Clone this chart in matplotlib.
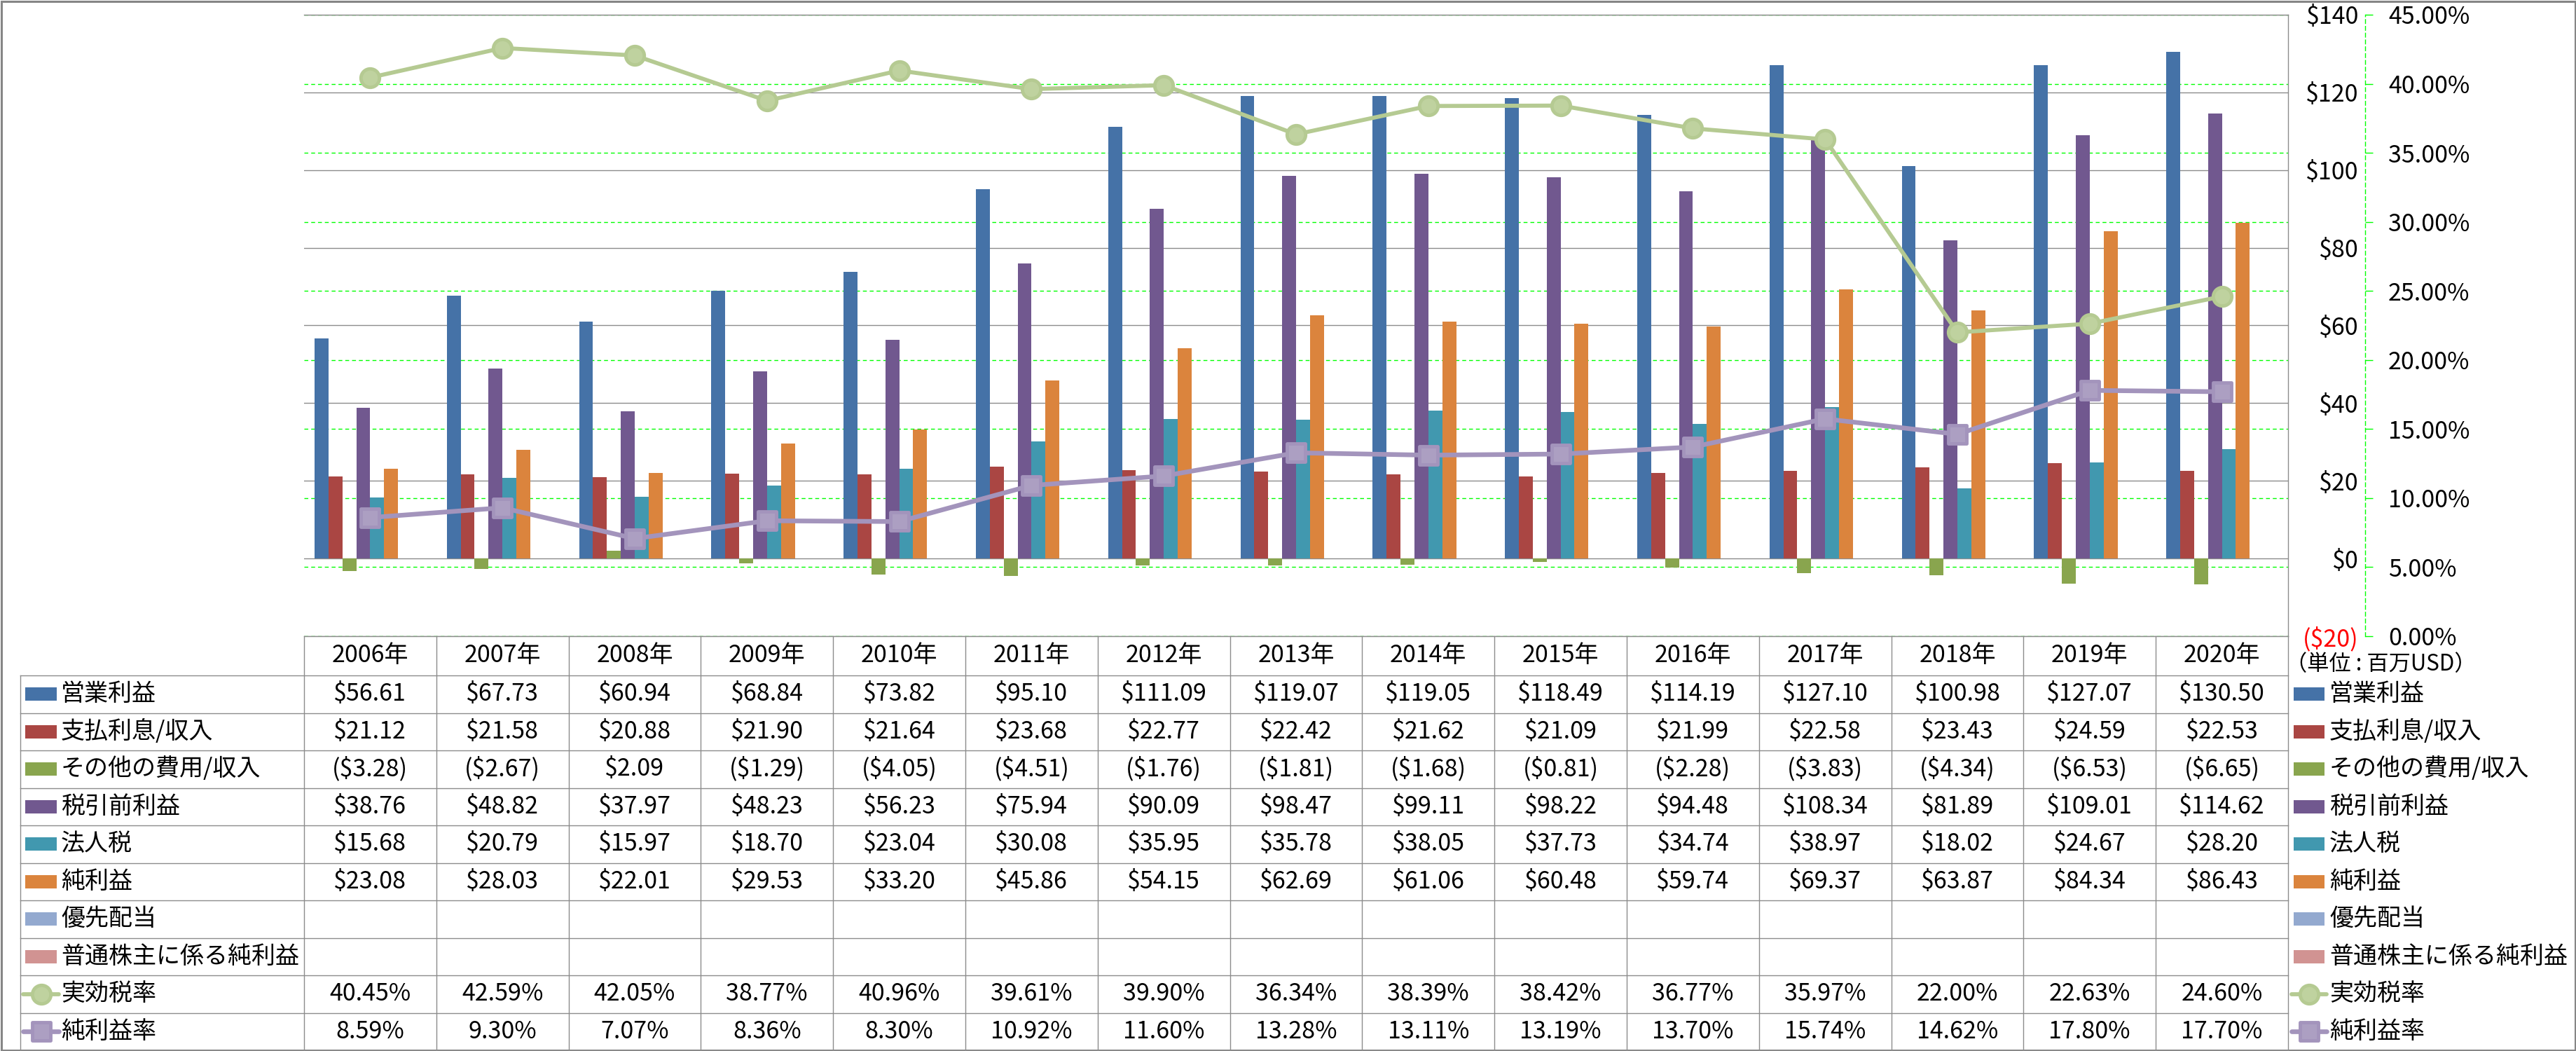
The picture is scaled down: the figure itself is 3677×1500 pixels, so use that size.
import numpy as np
import matplotlib
matplotlib.use('Agg')
import matplotlib.pyplot as plt
from matplotlib.patches import Rectangle
from matplotlib.markers import MarkerStyle

plt.rcParams['font.family'] = ['Noto Sans CJK JP', 'DejaVu Sans']

# # DATA (単位: 百万USD)

years = ['2006年', '2007年', '2008年', '2009年', '2010年', '2011年', '2012年', '2013年',
         '2014年', '2015年', '2016年', '2017年', '2018年', '2019年', '2020年']

operating_income = [56.61, 67.73, 60.94, 68.84, 73.82, 95.10, 111.09, 119.07,
                    119.05, 118.49, 114.19, 127.10, 100.98, 127.07, 130.50]
interest = [21.12, 21.58, 20.88, 21.90, 21.64, 23.68, 22.77, 22.42,
            21.62, 21.09, 21.99, 22.58, 23.43, 24.59, 22.53]
other_exp = [-3.28, -2.67, 2.09, -1.29, -4.05, -4.51, -1.76, -1.81,
             -1.68, -0.81, -2.28, -3.83, -4.34, -6.53, -6.65]
pretax_income = [38.76, 48.82, 37.97, 48.23, 56.23, 75.94, 90.09, 98.47,
                 99.11, 98.22, 94.48, 108.34, 81.89, 109.01, 114.62]
income_tax = [15.68, 20.79, 15.97, 18.70, 23.04, 30.08, 35.95, 35.78,
              38.05, 37.73, 34.74, 38.97, 18.02, 24.67, 28.20]
net_income = [23.08, 28.03, 22.01, 29.53, 33.20, 45.86, 54.15, 62.69,
              61.06, 60.48, 59.74, 69.37, 63.87, 84.34, 86.43]
preferred_div = []        # no data
common_net_income = []    # no data

eff_tax_rate = [40.45, 42.59, 42.05, 38.77, 40.96, 39.61, 39.90, 36.34,
                38.39, 38.42, 36.77, 35.97, 22.00, 22.63, 24.60]
net_margin = [8.59, 9.30, 7.07, 8.36, 8.30, 10.92, 11.60, 13.28,
              13.11, 13.19, 13.70, 15.74, 14.62, 17.80, 17.70]

bar_series = [
    ('営業利益', operating_income, '#4572A7'),
    ('支払利息/収入', interest, '#AA4643'),
    ('その他の費用/収入', other_exp, '#89A54E'),
    ('税引前利益', pretax_income, '#71588F'),
    ('法人税', income_tax, '#4198AF'),
    ('純利益', net_income, '#DB843D'),
    ('優先配当', preferred_div, '#93A9CF'),
    ('普通株主に係る純利益', common_net_income, '#D19392'),
]
line_series = [
    ('実効税率', eff_tax_rate, '#B5CA92', '#BFD29F', 'o', 4.2),
    ('純利益率', net_margin, '#A394BC', '#AC9FC2', 's', 4.8),
]

# # LAYOUT (pixels)

W, H, DPI = 3677, 1500, 100
PL, PR, PT, PB = 434, 3266, 21, 908
ROW_TOP, ROW_H = 964, 53.5
TAB_L = 29
FS = 24.5
GRID_C = '#8C8C8C'
LIME = '#00FF00'

fig = plt.figure(figsize=(W / DPI, H / DPI), dpi=DPI)
ax = fig.add_axes([PL / W, 1 - PB / H, (PR - PL) / W, (PB - PT) / H])
ax2 = ax.twinx()

n = len(years)
x = np.arange(n)
slot = 1 / (len(bar_series) + 1.5)   # Excel gap width 150%

# bars
for i, (name, vals, col) in enumerate(bar_series):
    if len(vals) == 0:
        continue
    off = (i - len(bar_series) / 2 + 0.5) * slot
    ax.bar(x + off, vals, width=slot, color=col, zorder=3, linewidth=0)

ax.set_xlim(-0.5, n - 0.5)
ax.set_ylim(-20, 140)
ax2.set_ylim(0, 45)

# $ axis (drawn on the right, right-aligned labels)
dticks = list(range(-20, 141, 20))
dlabels = [f'${v}' if v >= 0 else f'(${-v})' for v in dticks]
ax.set_yticks(dticks, labels=dlabels)
ax.yaxis.tick_right()
ax.tick_params(axis='y', length=0, pad=72.7, labelsize=FS)
for t, v in zip(ax.yaxis.get_major_ticks(), dticks):
    t.label2.set_horizontalalignment('right')
    if v < 0:
        t.label2.set_color('red')
ax.set_xticks([])
for v in dticks:
    ax.axhline(v, color=GRID_C, lw=1.0, zorder=1)

# % axis
pticks = list(range(0, 46, 5))
ax2.set_yticks(pticks, labels=[f'{v:.2f}%' for v in pticks])
ax2.tick_params(axis='y', length=7.9, width=1, color=LIME, pad=15.8, labelsize=FS)
ax2.spines['right'].set_position(('outward', 79.2))
ax2.spines['right'].set_color(LIME)
ax2.spines['right'].set_linestyle((0, (4, 3)))
ax2.spines['right'].set_linewidth(1)
for tl in ax2.yaxis.get_major_ticks():
    tl.tick2line.set_linestyle((0, (3, 3)))
# % gridlines drawn behind the bars
for v in pticks:
    ax.axhline(-20 + v / 45 * 160, color=LIME, lw=1.0, ls=(0, (4, 3)), zorder=1.5)

for s in ['left', 'bottom']:
    ax.spines[s].set_visible(False)
for s in ['top', 'right']:
    ax.spines[s].set_color(GRID_C)
    ax.spines[s].set_linewidth(1.0)
for s in ['left', 'bottom', 'top']:
    ax2.spines[s].set_visible(False)

# lines
for name, vals, col, face, mk, lw in line_series:
    ax2.plot(x, vals, color=col, lw=lw, zorder=5, clip_on=False,
             marker=MarkerStyle(mk, joinstyle='round'), ms=19, mfc=face, mec=col, mew=3.5)

# # DATA TABLE + LEGENDS

ov = fig.add_axes([0, 0, 1, 1])
ov.set_xlim(0, W)
ov.set_ylim(H, 0)
ov.axis('off')
ov.patch.set_visible(False)

cw = (PR - PL) / n
tab_bottom = ROW_TOP + 10 * ROW_H

# header row
ov.plot([PL, PR], [PB, PB], color=GRID_C, lw=1.0)
for k in range(n + 1):
    xx = PL + k * cw
    ov.plot([xx, xx], [PB, tab_bottom], color=GRID_C, lw=1.0)
for c, yname in enumerate(years):
    ov.text(PL + (c + 0.5) * cw, (PB + ROW_TOP) / 2, yname, ha='center', va='center', fontsize=FS)

# data rows
for r in range(11):
    yy = ROW_TOP + r * ROW_H
    ov.plot([TAB_L, PR], [yy, yy], color=GRID_C, lw=1.0)
ov.plot([TAB_L, TAB_L], [ROW_TOP, tab_bottom], color=GRID_C, lw=1.0)


def money(v):
    return f'${v:.2f}' if v >= 0 else f'(${-v:.2f})'


rows = [(nm, vals, 'bar', col) for nm, vals, col in bar_series] + \
       [(nm, vals, 'line', (col, face, mk, lw)) for nm, vals, col, face, mk, lw in line_series]

for r, (nm, vals, kind, sty) in enumerate(rows):
    yc = ROW_TOP + (r + 0.5) * ROW_H
    for c, v in enumerate(vals):
        txt = money(v) if kind == 'bar' else f'{v:.2f}%'
        ov.text(PL + (c + 0.5) * cw, yc, txt, ha='center', va='center', fontsize=FS)
    # legend keys: inside table and on the right
    for kx0, kx1, tx in [(36, 81, 87), (3274, 3318, 3325)]:
        if kind == 'bar':
            ov.add_patch(Rectangle((kx0, yc - 9.5), kx1 - kx0, 19, color=sty, lw=0))
        else:
            col, face, mk, lw = sty
            ov.plot([kx0 - 3, kx1 + 3], [yc, yc], color=col, lw=lw, solid_capstyle='round')
            ov.plot([(kx0 + kx1) / 2], [yc], marker=MarkerStyle(mk, joinstyle='round'),
                    ms=19, mfc=face, mec=col, mew=3.5)
        ov.text(tx, yc, nm, ha='left', va='center', fontsize=FS)

ov.text(3398, 948, '（単位 : 百万USD）', ha='center', va='center', fontsize=22.5)

# outer frame
ov.add_patch(Rectangle((1.5, 1.5), W - 3, H - 3, fill=False, edgecolor='#868686', lw=2.2))

fig.savefig('out.png', dpi=DPI)
